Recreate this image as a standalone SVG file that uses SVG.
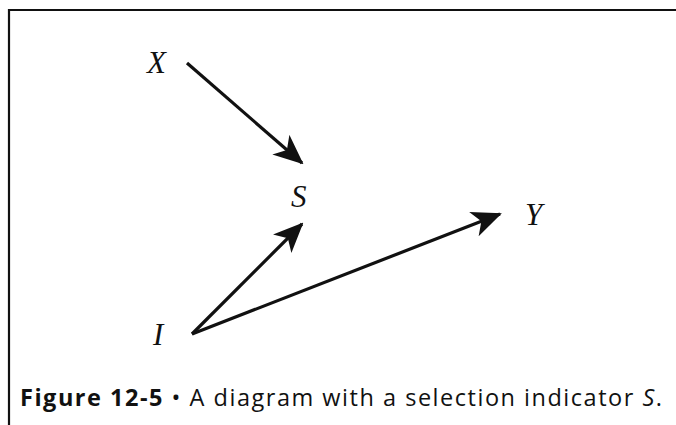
<svg xmlns="http://www.w3.org/2000/svg" width="676" height="425" viewBox="0 0 676 425">
<style>
.lbl{font-family:"Liberation Serif",serif;font-style:italic;font-size:31px;fill:#111}
.edge{stroke:#111;stroke-width:3.2;fill:none;marker-end:url(#ah)}
.cap{font-family:"Open Sans","DejaVu Sans",sans-serif;font-size:23.5px;fill:#111}
</style>
<defs>
<marker id="ah" viewBox="0 0 30 26" refX="28" refY="13" markerWidth="30" markerHeight="26" markerUnits="userSpaceOnUse" orient="auto">
<path d="M0,0 L30,13 L0,26 L8,13 Z" fill="#111"/>
</marker>
</defs>
<rect width="676" height="425" fill="#fff"/>
<path d="M9,425 V10 H676" stroke="#111" stroke-width="2.2" fill="none"/>
<g id="connectors">
<line class="edge" x1="187" y1="63" x2="302" y2="163"/>
<line class="edge" x1="192" y1="334" x2="302" y2="224"/>
<line class="edge" x1="192" y1="334" x2="500" y2="214"/>
</g>
<g id="X"><text class="lbl" x="147" y="73">X</text></g>
<g id="S"><text class="lbl" x="291" y="207">S</text></g>
<g id="Y"><text class="lbl" x="525" y="225">Y</text></g>
<g id="I"><text class="lbl" x="153" y="345">I</text></g>
<g id="caption"><text class="cap" x="20" y="406" textLength="642" lengthAdjust="spacing"><tspan font-weight="bold">Figure 12-5</tspan> • A diagram with a selection indicator <tspan font-style="italic">S</tspan>.</text></g>
</svg>
